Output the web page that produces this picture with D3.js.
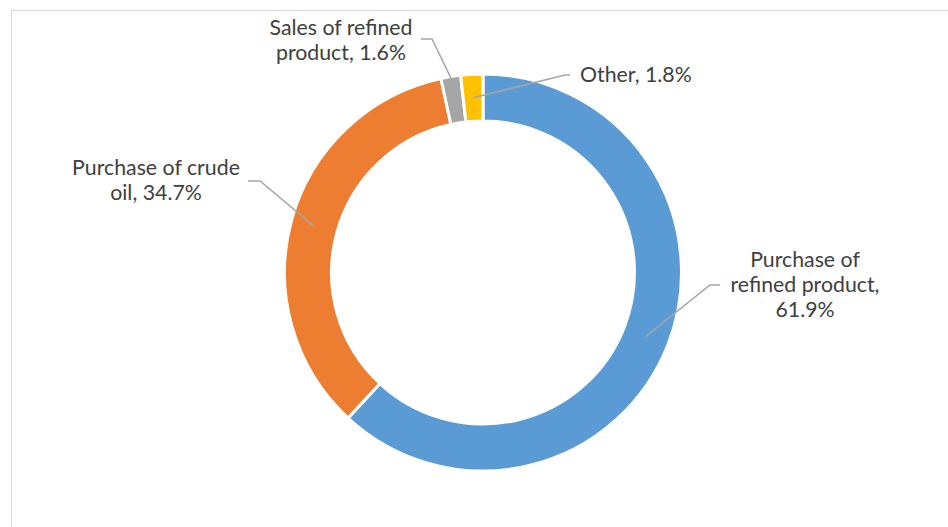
<!DOCTYPE html>
<html lang="en">
  <head>
    <meta charset="UTF-8" />
    <title>Donut chart</title>
    <script src="https://d3js.org/d3.v7.min.js"></script>
    <style>
      body {
        margin: 0;
        background: #fff;
      }
      .label {
        font-family: Lato, 'Open Sans', sans-serif;
        font-size: 21.3px;
        fill: #404040;
      }
    </style>
  </head>
  <body>
    <div id="chart"></div>
    <script>
      // data
      const categories = [
        'Purchase of refined product',
        'Purchase of crude oil',
        'Sales of refined product',
        'Other',
      ];
      const shares = [61.9, 34.7, 1.6, 1.8];
      const labelLines = [
        ['Purchase of', 'refined product,', '61.9%'],
        ['Purchase of crude', 'oil, 34.7%'],
        ['Sales of refined', 'product, 1.6%'],
        ['Other, 1.8%'],
      ];
      const colors = ['#5B9BD5', '#ED7D31', '#A5A5A5', '#FFC000'];

      // label placement (text anchor point, elbow, where the leader hits the ring)
      const labelLayout = [
        { x: 805, y: 267, anchor: 'middle', elbow: [720, 285], bend: [710, 285], r: 175 },
        { x: 156, y: 175, anchor: 'middle', elbow: [248, 181], bend: [260, 181], r: 175 },
        { x: 341, y: 35, anchor: 'middle', elbow: [421, 39], bend: [432, 39], r: 197 },
        { x: 580, y: 82, anchor: 'start', elbow: [570, 75], bend: [565, 75], r: 175 },
      ];

      const W = 948,
        H = 527;
      const cx = 483,
        cy = 272.5;
      const outerR = 198.5,
        innerR = 151.5;

      const svg = d3
        .select('#chart')
        .append('svg')
        .attr('width', W)
        .attr('height', H);

      // chart frame
      svg
        .append('rect')
        .attr('x', 11.5)
        .attr('y', 10.5)
        .attr('width', W + 10)
        .attr('height', H + 10)
        .attr('fill', 'none')
        .attr('stroke', '#d9d9d9')
        .attr('stroke-width', 1);

      const pie = d3
        .pie()
        .sort(null)
        .value((d) => d);
      const arcs = pie(shares);

      const arc = d3.arc().innerRadius(innerR).outerRadius(outerR);

      const g = svg
        .append('g')
        .attr('transform', `translate(${cx},${cy})`);

      g.selectAll('path.slice')
        .data(arcs)
        .enter()
        .append('path')
        .attr('class', 'slice')
        .attr('d', arc)
        .attr('fill', (d, i) => colors[i])
        .attr('stroke', '#fff')
        .attr('stroke-width', 3);

      // leader lines
      arcs.forEach(function (d, i) {
        const L = labelLayout[i];
        const a = (d.startAngle + d.endAngle) / 2;
        const px = cx + L.r * Math.sin(a);
        const py = cy - L.r * Math.cos(a);
        svg
          .append('polyline')
          .attr(
            'points',
            [L.elbow, L.bend, [px, py]].map((p) => p.join(',')).join(' '),
          )
          .attr('fill', 'none')
          .attr('stroke', '#a6a6a6')
          .attr('stroke-width', 1.5);
      });

      // labels
      labelLayout.forEach(function (L, i) {
        const t = svg
          .append('text')
          .attr('class', 'label')
          .attr('x', L.x)
          .attr('y', L.y)
          .attr('text-anchor', L.anchor);
        labelLines[i].forEach(function (line, j) {
          t.append('tspan')
            .attr('x', L.x)
            .attr('dy', j === 0 ? 0 : 25)
            .text(line);
        });
      });
    </script>
  </body>
</html>
